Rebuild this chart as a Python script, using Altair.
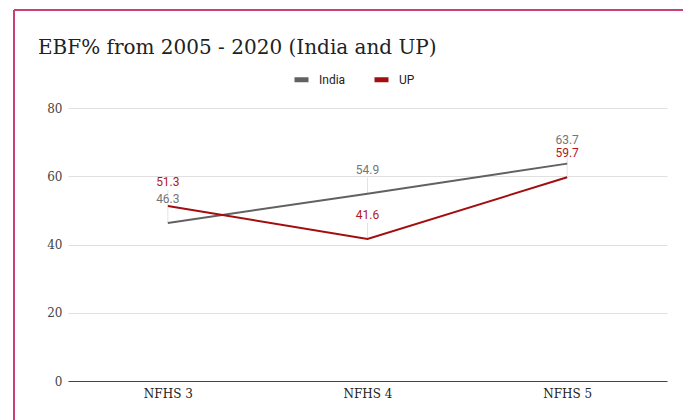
import altair as alt
import pandas as pd

surveys = ["NFHS 3", "NFHS 4", "NFHS 5"]
india = [46.3, 54.9, 63.7]
up = [51.3, 41.6, 59.7]
series_names = ["India", "UP"]
series_colors = ["#616161", "#a20d10"]
label_colors = ["#757575", "#b3171c"]
title_text = "EBF% from 2005 - 2020 (India and UP)"

rows = []
for name, vals in zip(series_names, [india, up]):
    for s, v in zip(surveys, vals):
        rows.append({"survey": s, "series": name, "value": v})
df = pd.DataFrame(rows)

x = alt.X("survey:N", sort=surveys, scale=alt.Scale(type="point", padding=0.5),
          axis=alt.Axis(title=None, labelAngle=0, labelAlign="center", labelBaseline="top",
                        domain=True, domainColor="#444", domainWidth=1.2,
                        ticks=False, labelFont="DejaVu Serif", labelFontSize=12, labelColor="#222",
                        labelPadding=7, grid=False))
y = alt.Y("value:Q", scale=alt.Scale(domain=[0, 80], nice=False),
          axis=alt.Axis(title=None, values=[0, 20, 40, 60, 80], domain=False, ticks=False,
                        labelFont="DejaVu Serif", labelFontSize=12, labelColor="#444",
                        labelPadding=6, gridColor="#e0e0e0", gridWidth=1))

color = alt.Color("series:N", scale=alt.Scale(domain=series_names, range=series_colors),
                  legend=alt.Legend(title=None, orient="none", direction="horizontal",
                                    legendX=224, legendY=-38, symbolType="stroke",
                                    symbolStrokeWidth=5, symbolSize=196, labelFont="Roboto",
                                    labelFontSize=12, labelColor="#222", columnPadding=18,
                                    labelOffset=8))

stems = alt.Chart(df).mark_rule(color="#e3e3e3", strokeWidth=1, y2Offset=-16).encode(
    x=x, y=y, y2="value:Q")

lines = alt.Chart(df).mark_line(strokeWidth=2).encode(x=x, y=y, color=color)

labels = alt.Chart(df).mark_text(dy=-24, baseline="middle", font="Roboto", fontSize=12).encode(
    x=x, y=y, text=alt.Text("value:Q", format=".1f"),
    color=alt.Color("series:N", scale=alt.Scale(domain=series_names, range=label_colors), legend=None))

title = alt.Chart(pd.DataFrame({"t": [title_text]})).mark_text(
    align="left", baseline="alphabetic", font="DejaVu Serif", fontSize=20, color="#222").encode(
    x=alt.value(-30), y=alt.value(-54), text="t:N")

border_top = alt.Chart(df).mark_rule(color="#c8407a", strokeWidth=1.5).encode(
    x=alt.value(-54), x2=alt.value(700), y=alt.value(-98))
border_left = alt.Chart(df).mark_rule(color="#c8407a", strokeWidth=1.5).encode(
    x=alt.value(-54), y=alt.value(-98), y2=alt.value(400))

chart = alt.layer(stems, lines, labels, title, border_top, border_left).resolve_scale(color="independent").properties(
    width=599, height=273,
    padding={"left": 68, "top": 108, "right": 16, "bottom": 39},
    autosize=alt.AutoSizeParams(type="none"),
).configure(background="white").configure_view(stroke="transparent", strokeWidth=0)

chart.save("out.html", embed_options={"renderer": "svg", "actions": False})
